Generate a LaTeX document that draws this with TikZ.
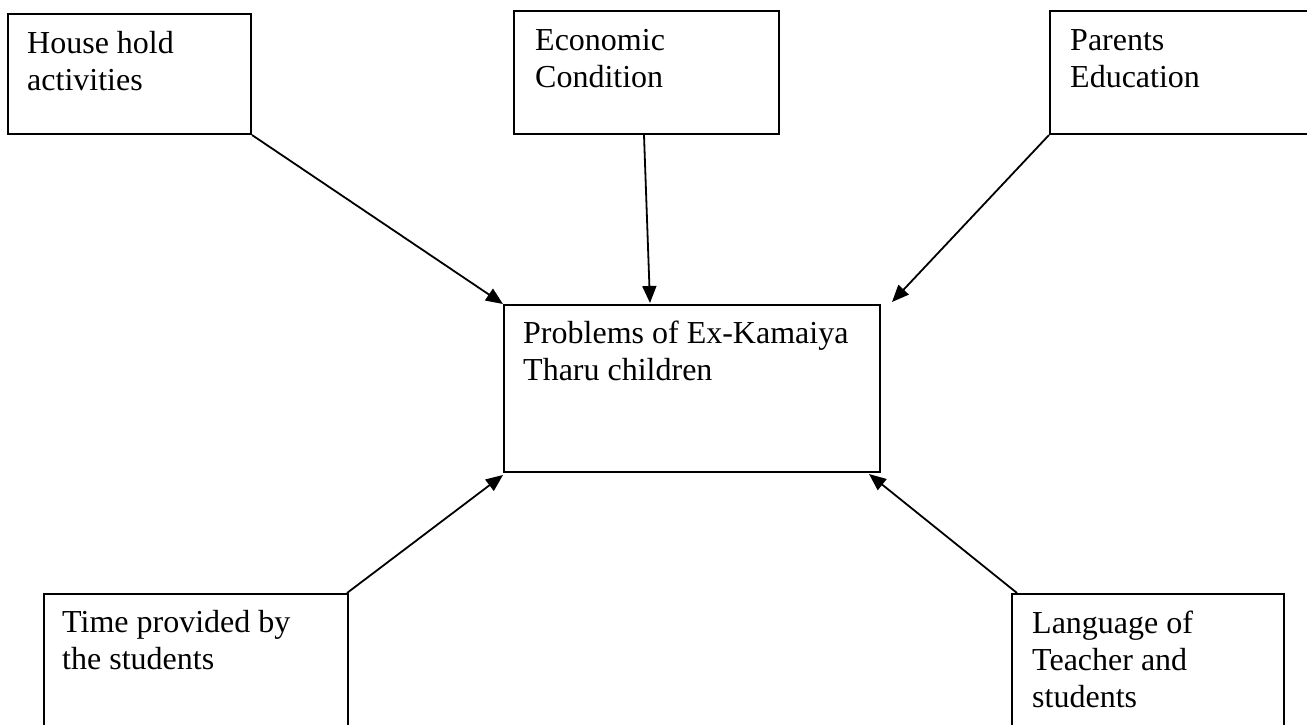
\documentclass[tikz,border=0pt]{standalone}
\usepackage{fontspec}
\setmainfont{Liberation Serif}
\usetikzlibrary{arrows.meta,calc}
\begin{document}
\begin{tikzpicture}[x=1pt,y=-1pt,
  box/.style={draw=black,line width=2pt,rectangle,inner sep=0pt,anchor=north west},
  txt/.style={anchor=base west,inner sep=0pt,font=\fontsize{32}{37}\selectfont},
  arr/.style={draw=black,line width=1.8pt,-{Triangle[length=17pt,width=14pt]}}]
\useasboundingbox (0,0) rectangle (1307,724);
\clip (0,0) rectangle (1307,724);
\fill[white] (0,0) rectangle (1307,724);
% boxes
\node[box,minimum width=243pt,minimum height=120pt] (tl) at (7,13) {};
\node[box,minimum width=265pt,minimum height=123pt] (tm) at (513,10) {};
\node[box,minimum width=271pt,minimum height=123pt] (tr) at (1049,10) {};
\node[box,minimum width=376pt,minimum height=167pt] (c) at (503,304) {};
\node[box,minimum width=304pt,minimum height=150pt] (bl) at (43,593) {};
\node[box,minimum width=272pt,minimum height=150pt] (br) at (1011,593) {};
% texts
\node[txt] (tltext) at (27,53) {\parbox[t]{300pt}{\raggedright House hold\\activities}};
\node[txt] (tmtext) at (535,50) {\parbox[t]{300pt}{\raggedright Economic\\Condition}};
\node[txt] (trtext) at (1070,50) {\parbox[t]{300pt}{\raggedright Parents\\Education}};
\node[txt] (ctext) at (523,343) {\parbox[t]{400pt}{\raggedright Problems of Ex-Kamaiya\\Tharu children}};
\node[txt] (bltext) at (62,632) {\parbox[t]{300pt}{\raggedright Time provided by\\the students}};
\node[txt] (brtext) at (1032,633) {\parbox[t]{300pt}{\raggedright Language of\\Teacher and\\students}};
% arrows
\draw[arr] (tl.south east) -- (c.north west);
\draw[arr] ($(tm.south west)+(131,0)$) -- ($(c.north west)+(147,-1)$);
\draw[arr] (tr.south west) -- ($(c.north east)+(11,-2)$);
\draw[arr] ($(bl.north west)+(304,0)$) -- ($(c.south west)+(0,2)$);
\draw[arr] ($(br.north west)+(6,0)$) -- ($(c.south east)+(-12,1)$);
\end{tikzpicture}
\end{document}
